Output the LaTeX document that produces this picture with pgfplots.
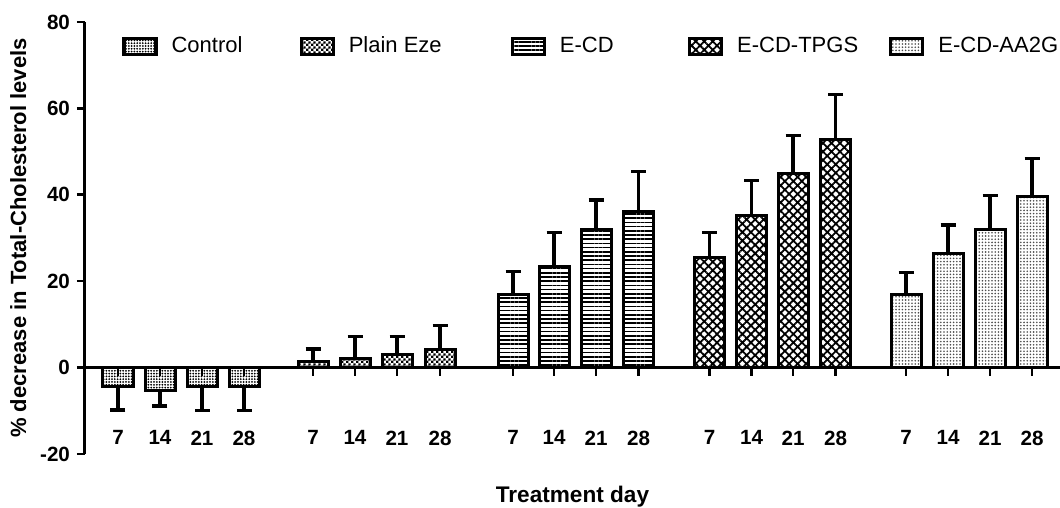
\documentclass[border=0pt]{standalone}
\usepackage{pgfplots}
\pgfplotsset{compat=1.18}
\usepackage{pgfplotstable}
\usepackage{fontspec}
\setmainfont{Liberation Sans}
\usetikzlibrary{patterns,patterns.meta}

% small black/white checkerboard for the Plain Eze bars
\pgfdeclarepatternformonly{smallchecker}{\pgfpointorigin}{\pgfqpoint{2.6pt}{2.6pt}}{\pgfqpoint{2.6pt}{2.6pt}}{%
  \pgfpathrectangle{\pgfpointorigin}{\pgfqpoint{1.3pt}{1.3pt}}%
  \pgfpathrectangle{\pgfqpoint{1.3pt}{1.3pt}}{\pgfqpoint{1.3pt}{1.3pt}}%
  \pgfusepath{fill}}

% x = bar centre (in picture units), y = mean % decrease, e = error
\pgfplotstableread{
x y e
118 -4.3 5.5
160 -5.2 3.7
202 -4.3 5.7
244 -4.3 5.7
}\control
\pgfplotstableread{
x y e
313 1.4 2.9
355 2.2 5.0
397 3.1 4.1
440 4.1 5.6
}\plain
\pgfplotstableread{
x y e
513 17.0 5.2
554 23.4 7.8
596 31.9 6.9
638.5 36.1 9.2
}\ecd
\pgfplotstableread{
x y e
709.5 25.5 5.8
751.5 35.3 8.0
793 45.0 8.8
835.5 52.9 10.3
}\tpgs
\pgfplotstableread{
x y e
906 17.0 5.0
948 26.5 6.5
990 31.9 7.9
1032 39.6 8.8
}\aag

\pgfplotsset{
  eb/.style={error bars/.cd, y dir=#1, y explicit,
    error bar style={line width=1.6pt, black},
    error mark options={rotate=90, mark size=3.75pt, line width=1.6pt, black}},
  barsty/.style={draw=black, line width=1.5pt, bar shift=0pt},
}

\begin{document}
\begin{tikzpicture}
\begin{axis}[
  scale only axis, width=487.5pt, height=216pt,
  xmin=85, xmax=1060, ymin=-20, ymax=80,
  axis y line=left, axis x line=middle,
  axis line style={-, line width=1.5pt},
  x axis line style={-, line width=1.1pt},
  hide obscured x ticks=false, hide obscured y ticks=false,
  ytick={-20,0,20,40,60,80},
  xtick={118,160,202,244,313,355,397,440,513,554,596,638.5,709.5,751.5,793,835.5,906,948,990,1032},
  xticklabels={7,14,21,28,7,14,21,28,7,14,21,28,7,14,21,28,7,14,21,28},
  tick align=outside, major tick length=4pt,
  tick style={line width=1.3pt, black},
  ticklabel style={font=\bfseries\fontsize{10.3}{12}\selectfont},
  /pgf/number format/assume math mode=true,
  xticklabel style={yshift=-24pt},
  ylabel={\% decrease in Total-Cholesterol levels},
  ylabel style={font=\bfseries\fontsize{11}{13}\selectfont},
  xlabel={Treatment day},
  xlabel style={font=\bfseries\fontsize{11.3}{13}\selectfont, at={(rel axis cs:0.5,0)}, anchor=north, yshift=-12.5pt},
  ybar, bar width=15pt,
  legend columns=5,
  legend image code/.code={\draw[#1, line width=1.6pt] (0pt,-4pt) rectangle (16pt,4pt);},
  legend style={at={(axis cs:122,74.4)}, anchor=west, draw=none, fill=none,
    inner sep=0pt, font=\fontsize{11}{13}\selectfont, nodes={inner sep=0pt},
    /tikz/every odd column/.append style={column sep=7pt}},
]
\coordinate (bl) at (rel axis cs:0,0);
\coordinate (tr) at (rel axis cs:1,1);

\addplot[barsty, pattern={Dots[distance=1.4pt, radius=0.5pt]}, pattern color=black, eb=minus]
  table[x=x, y=y, y error=e]{\control};
\addplot[barsty, pattern=smallchecker, pattern color=black, eb=plus]
  table[x=x, y=y, y error=e]{\plain};
\addplot[barsty, pattern={Lines[angle=0, distance=2.1pt, line width=0.8pt]}, eb=plus]
  table[x=x, y=y, y error=e]{\ecd};
\addplot[barsty, pattern={Hatch[angle=45, distance=3pt, line width=0.9pt]}, eb=plus]
  table[x=x, y=y, y error=e]{\tpgs};
\addplot[barsty, pattern={Dots[distance=1.6pt, radius=0.45pt]}, pattern color=black!70, eb=plus]
  table[x=x, y=y, y error=e]{\aag};

\legend{\makebox[64pt][l]{Control}, \makebox[81pt][l]{Plain Eze}, \makebox[64pt][l]{E-CD}, \makebox[76pt][l]{E-CD-TPGS}, E-CD-AA2G}
\end{axis}
\pgfresetboundingbox
\path ([shift={(-42.5pt,-27pt)}]bl) rectangle ([shift={(0pt,11pt)}]tr);
\end{tikzpicture}
\end{document}
